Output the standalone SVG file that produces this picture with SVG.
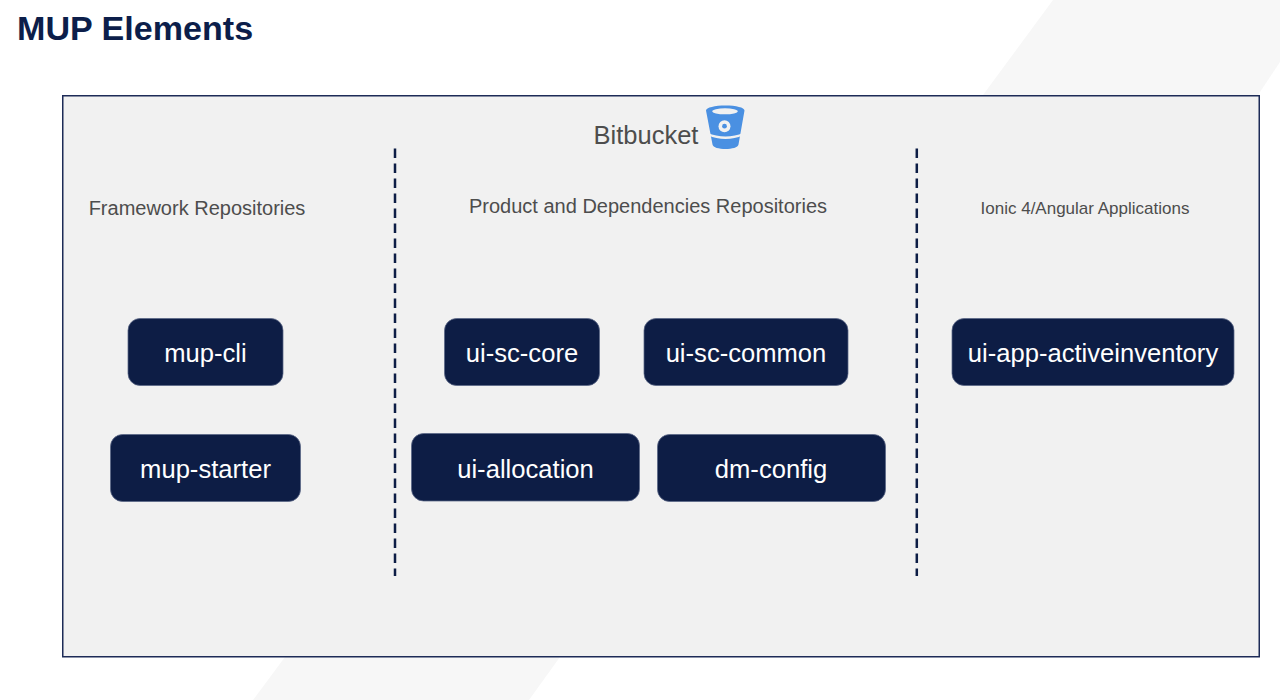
<svg xmlns="http://www.w3.org/2000/svg" width="1280" height="700" viewBox="0 0 1280 700">
<style>
text{font-family:"Liberation Sans",Arial,sans-serif}
.n rect{fill:#0d1d45;stroke:#5a6685;stroke-width:.75}
.n text{fill:#fff;font-size:25.6px;text-anchor:middle}
.h{fill:#4d4d4d;text-anchor:middle}
.d{stroke:#0d1d45;stroke-width:2.5;stroke-dasharray:9.5 5.5;fill:none}
</style>
<rect width="1280" height="700" fill="#fff"/>
<polygon points="1053,0 1280,0 1280,62 1258,95 983,95" fill="#f7f7f7"/>
<polygon points="285,657 560,657 529,700 253,700" fill="#f7f7f7"/>
<rect id="container" x="62.750" y="95.750" width="1196.500" height="561" fill="#f1f1f1" stroke="#1d2b57" stroke-width="1.500"/>
<text x="17" y="40" font-size="34.100" font-weight="700" fill="#0c1e4a">MUP Elements</text>
<g id="bitbucket">
<text class="h" x="646" y="143.500" font-size="25.500">Bitbucket</text>
<path d="M706 110.500C706 107.500 715 105.500 725.500 105.500C736 105.500 744.500 107.500 744.500 110.500L738.500 144.500C738 147.500 732 149 725.500 149C719 149 713 147.500 712.500 144.500Z" fill="#4a90e2"/>
<ellipse cx="725" cy="111.300" rx="12.800" ry="3" fill="#f1f1f1"/>
<path d="M708 133C718 137.500 733 137.500 743 133L742.500 135.500C733 140 718 140 708.500 135.500Z" fill="#f1f1f1"/>
<circle cx="724.500" cy="126.200" r="6" fill="#f1f1f1"/>
<circle cx="724.500" cy="126.200" r="2.400" fill="#4a90e2"/>
</g>
<text id="h1" class="h" x="197" y="215" font-size="20">Framework Repositories</text>
<text id="h2" class="h" x="648" y="213" font-size="20">Product and Dependencies Repositories</text>
<text id="h3" class="h" x="1085" y="214" font-size="17">Ionic 4/Angular Applications</text>
<g id="connectors">
<line class="d" x1="395" y1="148.500" x2="395" y2="576"/>
<line class="d" x1="916.800" y1="148.500" x2="916.800" y2="576"/>
</g>
<g id="mup-cli" class="n"><rect x="128" y="318.500" width="155" height="67" rx="12"/><text x="205.500" y="362">mup-cli</text></g>
<g id="mup-starter" class="n"><rect x="110.500" y="434.500" width="190" height="67" rx="12"/><text x="205.500" y="478">mup-starter</text></g>
<g id="ui-sc-core" class="n"><rect x="444.500" y="318.500" width="155" height="67" rx="12"/><text x="522" y="362">ui-sc-core</text></g>
<g id="ui-sc-common" class="n"><rect x="644" y="318.500" width="204" height="67" rx="12"/><text x="746" y="362">ui-sc-common</text></g>
<g id="ui-allocation" class="n"><rect x="411.500" y="433.500" width="228" height="67.500" rx="12"/><text x="525.500" y="478">ui-allocation</text></g>
<g id="dm-config" class="n"><rect x="657.500" y="434.500" width="228" height="67" rx="12"/><text x="771" y="478">dm-config</text></g>
<g id="ui-app-activeinventory" class="n"><rect x="952" y="318.500" width="282" height="67" rx="12"/><text x="1093" y="362">ui-app-activeinventory</text></g>
</svg>
